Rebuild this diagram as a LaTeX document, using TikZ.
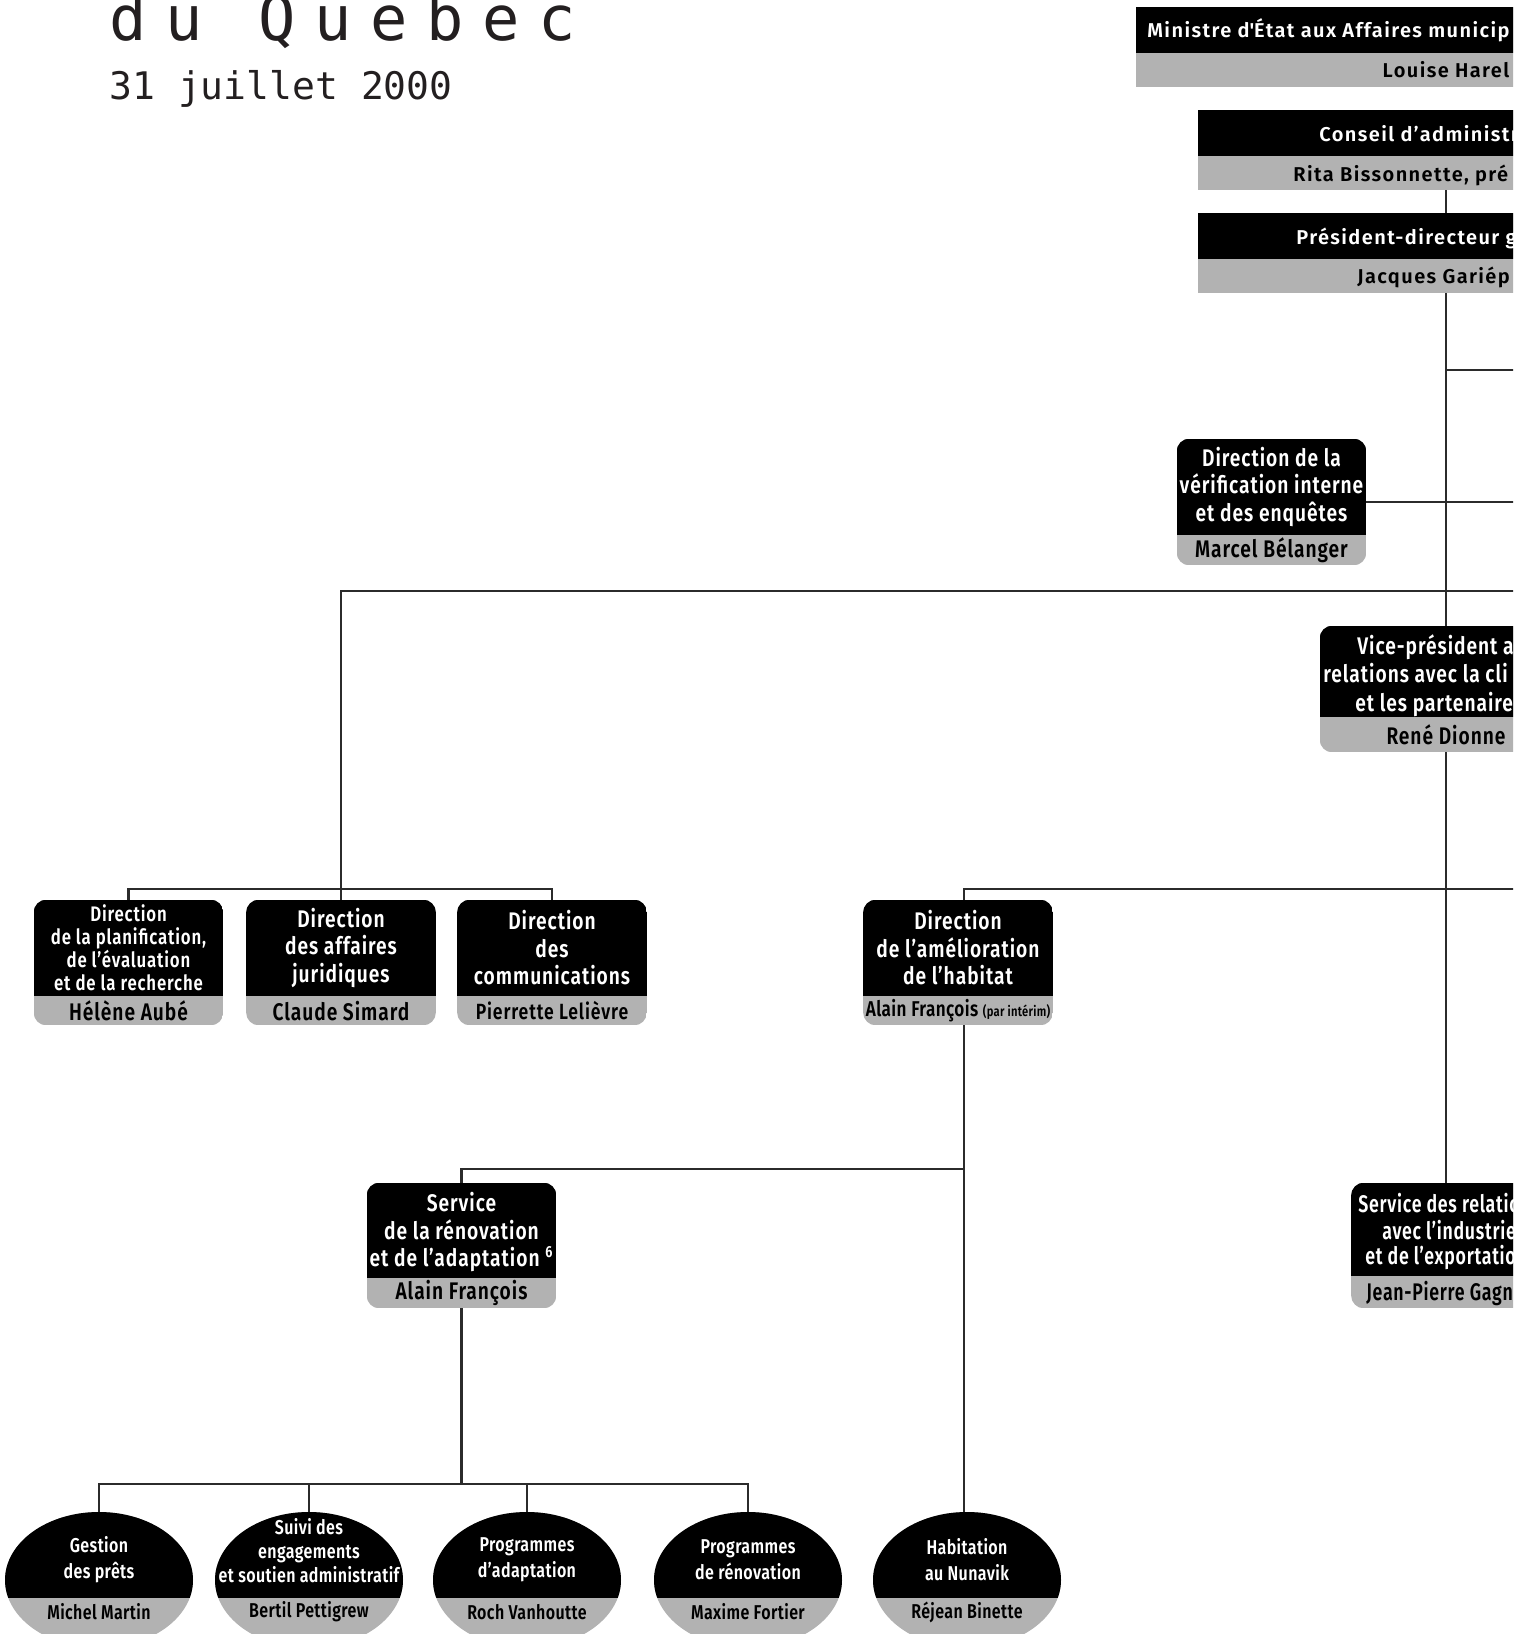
\documentclass[tikz,border=0pt]{standalone}
\usepackage{fontspec}
\usetikzlibrary{shapes.geometric,calc}
\newfontfamily\titlemono{DejaVu Sans Mono}[LetterSpace=30]
\newfontfamily\datemono{DejaVu Sans Mono}
\newfontfamily\boxfont{Fira Sans}[FakeStretch=0.8,LetterSpace=4,BoldFont={Fira Sans SemiBold}]
\newfontfamily\relfont{Fira Sans}[FakeStretch=0.74,LetterSpace=3,BoldFont={Fira Sans SemiBold}]
\newfontfamily\topfont{Fira Sans}[LetterSpace=7,BoldFont={Fira Sans SemiBold}]
\newfontfamily\ellfont{Fira Sans}[FakeStretch=0.8,LetterSpace=2,BoldFont={Fira Sans SemiBold}]
\definecolor{band}{gray}{0.70}
\definecolor{linec}{HTML}{2B2B2B}
\definecolor{ink}{HTML}{231F20}

\newcommand{\mkbox}[7]{% name, cx, cy, w, h, grey, radius
  \node[boxshape, minimum width=#4*0.5pt, minimum height=#5*0.5pt] (#1) at (#2,#3) {};
  \begin{scope}
    \clip[rounded corners=#7] (#1.north west) rectangle (#1.south east);
    \fill[band] (#1.north west) rectangle (#1.south east);
    \fill[black] (#1.north west) rectangle ($(#1.south east)+(0,-#6)$);
  \end{scope}
  \coordinate (#1-tc) at ($(#1.north)+(0,{(#5-#6)/2})$);
  \coordinate (#1-nc) at ($(#1.south)+(0,{-#6/2})$);
}
\newcommand{\mkell}[3]{% name, cx, cy
  \node[ellshape] (#1) at (#2,#3) {};
  \begin{scope}
    \clip (#1.center) ellipse [x radius=47pt, y radius=34pt];
    \fill[band] ($(#1.center)+(-100,-100)$) rectangle ($(#1.center)+(100,100)$);
    \fill[black] ($(#1.center)+(-100,-100)$) rectangle ($(#1.center)+(100,18)$);
  \end{scope}
}

\begin{document}
\begin{tikzpicture}[x=0.5pt,y=-0.5pt,
  conn/.style={draw=linec,line width=1.1pt},
  boxshape/.style={rectangle,inner sep=0pt,draw=none},
  ellshape/.style={ellipse,inner sep=0pt,draw=none,minimum width=94pt,minimum height=68pt},
  ttl/.style={text=white,align=center,inner sep=0pt,font=\boxfont\bfseries\fontsize{12}{13.7}\selectfont},
  ttlsmall/.style={ttl,font=\boxfont\bfseries\fontsize{10.5}{11.5}\selectfont},
  nm/.style={text=black,align=center,inner sep=0pt,font=\boxfont\bfseries\fontsize{12}{13.7}\selectfont},
  nmsmall/.style={nm,font=\boxfont\bfseries\fontsize{11}{13}\selectfont},
  nmnarrow/.style={nm,font=\ellfont\bfseries\fontsize{10.7}{13}\selectfont},
  toptxt/.style={text=white,anchor=base west,inner sep=0pt,font=\topfont\bfseries\fontsize{10}{12}\selectfont},
  topnm/.style={toptxt,text=black},
  cliptxt/.style={text=white,anchor=base west,inner sep=0pt,font=\boxfont\bfseries\fontsize{12}{13.7}\selectfont},
  reltxt/.style={cliptxt,font=\relfont\bfseries\fontsize{12}{13.7}\selectfont},
  relnm/.style={reltxt,text=black},
  elltxt/.style={text=white,align=center,inner sep=0pt,font=\ellfont\bfseries\fontsize{10}{13}\selectfont},
  elltxt3/.style={elltxt,font=\ellfont\bfseries\fontsize{10}{12}\selectfont},
  ellnm/.style={elltxt,text=black}]

\useasboundingbox (0,0) rectangle (1522,1634);
\begin{scope}
\clip (0,0) rectangle (1513,1634);

% title
\node[anchor=base west,inner sep=0pt,text=ink,font=\titlemono\fontsize{31}{31}\selectfont] (title) at (109,40) {du Quebec};
\node[anchor=base west,inner sep=0pt,text=ink,font=\datemono\fontsize{19}{19}\selectfont] (date) at (109,99) {31 juillet 2000};

% top boxes
\mkbox{min}{1446}{47}{620}{80}{34}{0pt}
\mkbox{ca}{1446}{150}{496}{80}{34}{0pt}
\mkbox{pdg}{1446}{253}{496}{80}{34}{0pt}
\node[toptxt] (min-t) at (1147,37) {Ministre d\textquotesingle État aux Affaires municip};
\node[topnm,anchor=base] (min-n) at (1446,77) {Louise Harel};
\node[toptxt] (ca-t) at (1319,141) {Conseil d’administr};
\node[topnm] (ca-n) at (1293,181) {Rita Bissonnette, pré};
\node[toptxt] (pdg-t) at (1296,244) {Président-directeur g};
\node[topnm] (pdg-n) at (1357,283) {Jacques Gariép};

% verification
\mkbox{verif}{1271.5}{502}{189}{126}{30}{6.5pt}
\node[ttl] (verif-title) at (verif-tc) {Direction de la\\vérification interne\\et des enquêtes};
\node[nm] (verif-name) at (verif-nc) {Marcel Bélanger};

% vice-president
\mkbox{vp}{1446}{689}{252}{126}{35}{6.5pt}
\node[cliptxt] (vp-l1) at (1357,654) {Vice-président a};
\node[cliptxt] (vp-l2) at (1323,682) {relations avec la cli};
\node[cliptxt] (vp-l3) at (1355,711) {et les partenaire};
\node[nm] (vp-name) at (vp-nc) {René Dionne};

% row of directions
\mkbox{plan}{128.5}{962.5}{189}{125}{29}{6.5pt}
\node[ttlsmall] (plan-title) at (plan-tc) {Direction\\de la planification,\\de l’évaluation\\et de la recherche};
\node[nm] (plan-name) at (plan-nc) {Hélène Aubé};

\mkbox{jur}{341}{962.5}{189}{125}{29}{6.5pt}
\node[ttl] (jur-title) at (jur-tc) {Direction\\des affaires\\juridiques};
\node[nm] (jur-name) at (jur-nc) {Claude Simard};

\mkbox{comm}{552}{962.5}{189}{125}{29}{6.5pt}
\node[ttl] (comm-title) at (comm-tc) {Direction\\des\\communications};
\node[nmsmall] (comm-name) at (comm-nc) {Pierrette Lelièvre};

\mkbox{amel}{958}{962.5}{189}{125}{29}{6.5pt}
\node[ttl] (amel-title) at (amel-tc) {Direction\\de l’amélioration\\de l’habitat};
\node[nmnarrow] (amel-name) at (amel-nc) {Alain François {\fontsize{7}{8}\selectfont(par intérim)}};

% services
\mkbox{ren}{461.5}{1245.5}{189}{125}{30}{6.5pt}
\node[ttl] (ren-title) at ($(ren-tc)+(0,2)$) {Service\\de la rénovation\\et de l’adaptation \textsuperscript{6}};
\node[nm] (ren-name) at (ren-nc) {Alain François};

\mkbox{rel}{1446}{1245.5}{189}{125}{32}{6.5pt}
\node[reltxt] (rel-l1) at (1358,1212) {Service des relatio};
\node[reltxt] (rel-l2) at (1382,1239) {avec l’industrie};
\node[reltxt] (rel-l3) at (1365,1264) {et de l’exportatio};
\node[relnm] (rel-n) at (1366,1300) {Jean-Pierre Gagn};

% ellipses
\mkell{gest}{99}{1580}
\mkell{suivi}{309}{1580}
\mkell{adap}{527}{1580}
\mkell{renov}{748}{1580}
\mkell{nun}{967}{1580}
\node[elltxt] (gest-t) at ($(gest.center)+(0,-20)$) {Gestion\\des prêts};
\node[ellnm] (gest-n) at ($(gest.center)+(0,32)$) {Michel Martin};
\node[elltxt3] (suivi-t) at ($(suivi.center)+(0,-29)$) {Suivi des\\engagements\\et soutien administratif};
\node[ellnm] (suivi-n) at ($(suivi.center)+(0,32)$) {Bertil Pettigrew};
\node[elltxt] (adap-t) at ($(adap.center)+(0,-20)$) {Programmes\\d’adaptation};
\node[ellnm] (adap-n) at ($(adap.center)+(0,32)$) {Roch Vanhoutte};
\node[elltxt] (renov-t) at ($(renov.center)+(0,-20)$) {Programmes\\de rénovation};
\node[ellnm] (renov-n) at ($(renov.center)+(0,32)$) {Maxime Fortier};
\node[elltxt] (nun-t) at ($(nun.center)+(0,-20)$) {Habitation\\au Nunavik};
\node[ellnm] (nun-n) at ($(nun.center)+(0,32)$) {Réjean Binette};

% connectors
\coordinate (eR) at (1530,0);
\draw[conn] (ca.south) -- (pdg.north);
\draw[conn] (pdg.south) -- (vp.north);
\coordinate (j1) at (1446,370);
\draw[conn] (j1) -- (j1 -| eR);
\draw[conn] (verif.east) -- (verif.east -| eR);
\coordinate (jl) at (341,591);
\draw[conn] (jl -| eR) -- (jl) -- (jur.north);
\coordinate (bus1) at (341,889);
\draw[conn] (plan.north) |- (bus1) -| (comm.north);
\draw[conn] (vp.south) -- (rel.north);
\coordinate (ab) at (964,889);
\draw[conn] (ab -| eR) -- (ab) -- (ab |- amel.north);
\draw[conn] (ab |- amel.south) -- (ab |- nun.north);
\coordinate (sb) at (964,1169);
\draw[conn] (sb) -| (ren.north);
\coordinate (bus2) at (461.5,1484);
\draw[conn] (ren.south) -- (bus2);
\draw[conn] (gest.north) |- (bus2) -| (renov.north);
\draw[conn] (suivi.north) -- (suivi.north |- bus2);
\draw[conn] (adap.north) -- (adap.north |- bus2);
\end{scope}
\end{tikzpicture}
\end{document}
